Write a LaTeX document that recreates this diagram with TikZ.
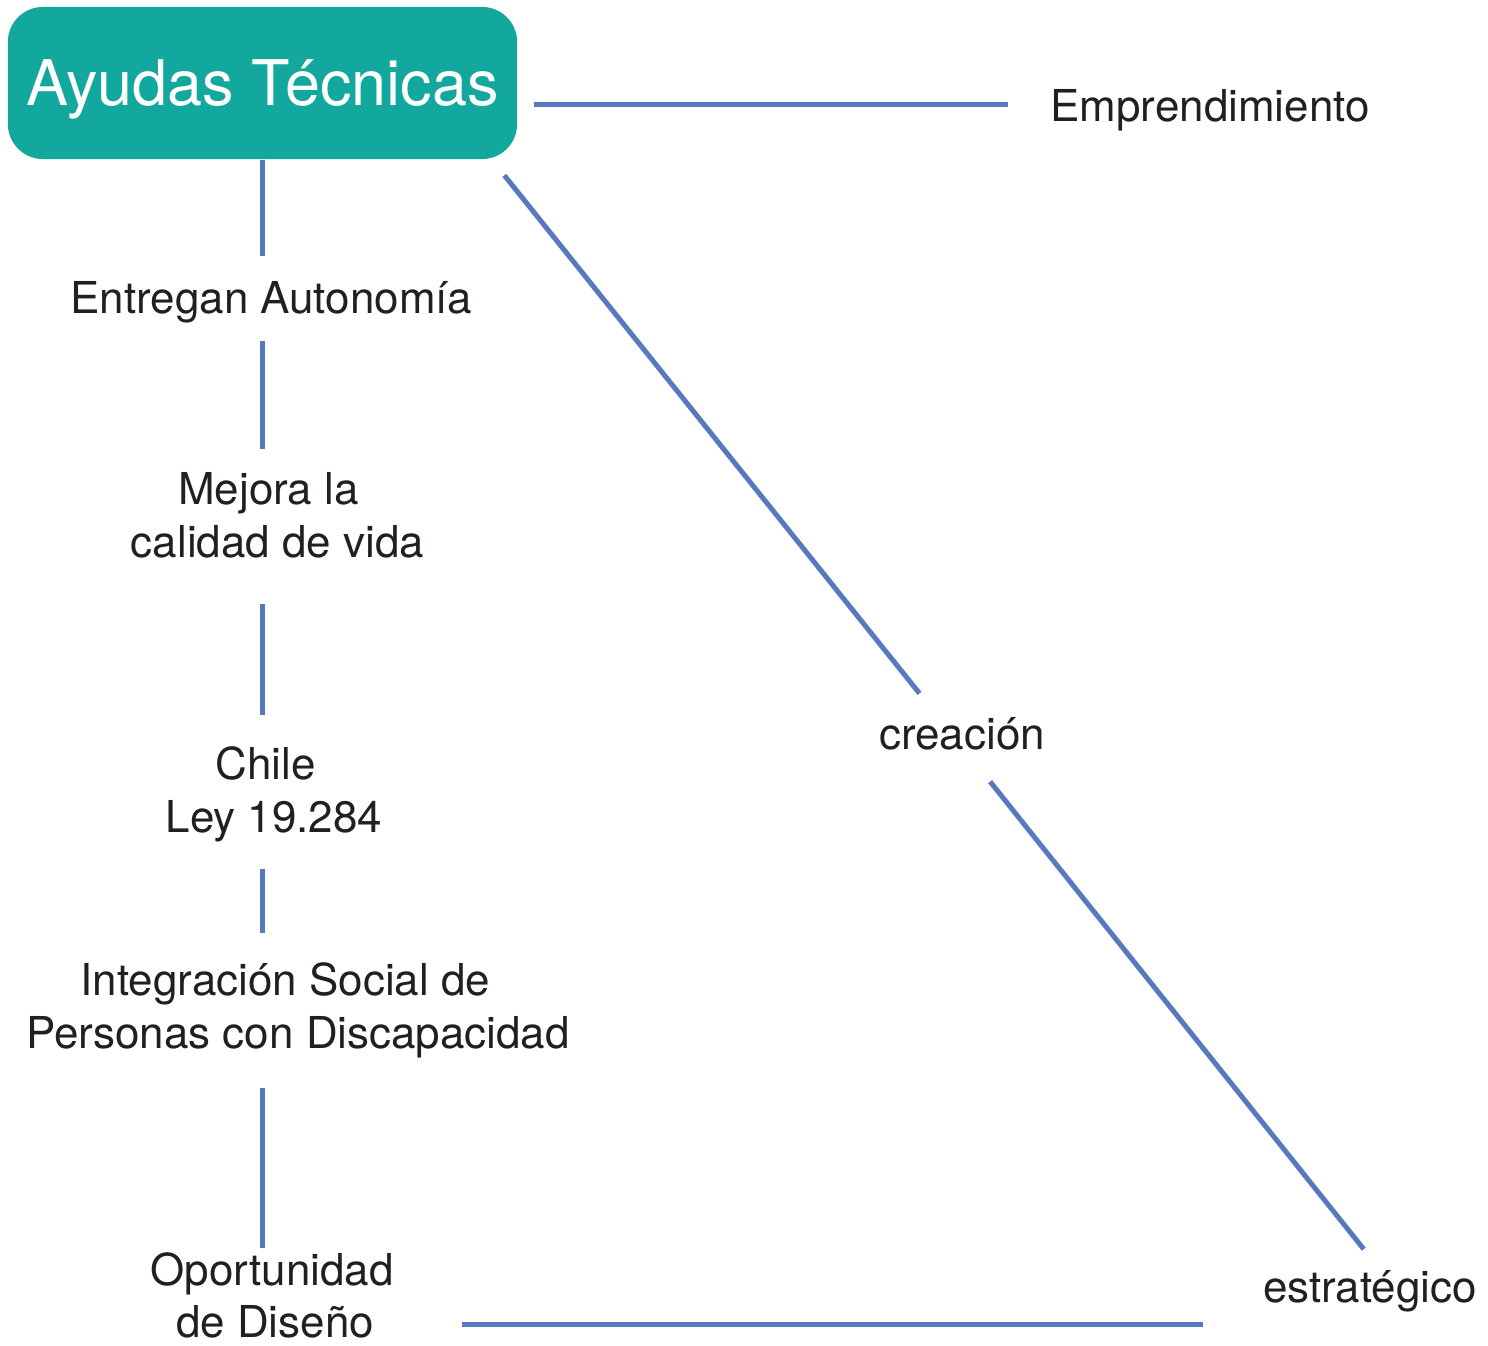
\documentclass[tikz,border=0pt]{standalone}
\usepackage{fontspec}
\setmainfont{TeX Gyre Heros}
\definecolor{tealbox}{RGB}{19,168,158}
\definecolor{linkblue}{RGB}{88,121,190}
\definecolor{inkgray}{RGB}{35,31,32}

\begin{document}
\begin{tikzpicture}[x=0.01cm,y=-0.01cm,
  every node/.style={inner sep=0pt,text=inkgray,align=center,font=\fontsize{12.5}{15}\selectfont},
  title/.style={fill=tealbox,rounded corners=0.35cm,minimum width=5.09cm,minimum height=1.52cm,text=white,text depth=0pt,font=\fontsize{17.9}{21}\selectfont},
  link/.style={draw=linkblue,line width=0.05cm}]
  \useasboundingbox (0,0) rectangle (1488,1346);

  \node[title] (tec) at (262.5,83) {Ayudas Técnicas};
  \node[text depth=0pt] (emp) at (1210,105) {Emprendimiento};
  \node (ent) at (271.5,302) {Entregan Autonomía};
  \node (mej) at (277.5,515.5) {Mejora la\hspace*{0.18cm}\\calidad de vida};
  \node (chi) at (274,794) {Chile\hspace*{0.17cm}\\Ley 19.284};
  \node (int) at (298,1010) {Integración Social de\hspace*{0.25cm}\\Personas con Discapacidad};
  \node (opo) at (275,1295.5) {Oportunidad\hspace*{0.06cm}\\de Diseño};
  \node (cre) at (962,734) {creación};
  \node (est) at (1370,1291) {estratégico};
  \coordinate (opoline) at ([yshift=-0.285cm]opo.east);

  \draw[link,shorten >=0.24cm] (tec.south) -- (tec.south |- ent.north);
  \draw[link,shorten <=0.17cm,shorten >=0.23cm] (tec.south |- ent.south) -- (tec.south |- mej.north);
  \draw[link,shorten <=0.45cm,shorten >=0.31cm] (tec.south |- mej.south) -- (tec.south |- chi.north);
  \draw[link,shorten <=0.27cm,shorten >=0.29cm] (tec.south |- chi.south) -- (tec.south |- int.north);
  \draw[link,shorten <=0.3cm,shorten >=0.04cm] (tec.south |- int.south) -- (tec.south |- opo.north);
  \draw[link,shorten <=0.16cm,shorten >=0.42cm] (tec.east |- emp.west) -- (emp.west);
  \draw[link,shorten <=0.2cm,shorten >=0.52cm] ([xshift=-0.26cm]tec.south east) -- ([xshift=-0.1cm]cre.center);
  \draw[link,shorten <=0.61cm,shorten >=0.26cm] ([xshift=-0.1cm]cre.center) -- ([xshift=0.1cm]est.north);
  \draw[link,shorten <=0.615cm,shorten >=0.59cm] (opoline) -- (opoline -| est.west);
\end{tikzpicture}
\end{document}
